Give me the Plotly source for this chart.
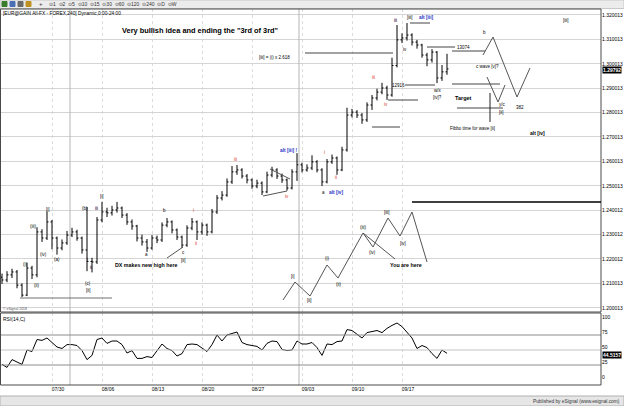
import plotly.graph_objects as go

W, H = 624, 406

# ---------------- data (12h bars, EUR/USD) ----------------
bar_open = [1.2125, 1.2114, 1.2135, 1.2147, 1.2093, 1.2052, 1.2163, 1.2135, 1.2311, 1.2286,
            1.2352, 1.2286, 1.2245, 1.2266, 1.2298, 1.2311, 1.2286, 1.2237, 1.2190, 1.2188,
            1.2360, 1.2393, 1.2389, 1.2401, 1.2409, 1.2380, 1.2352, 1.2335, 1.2286, 1.2270,
            1.2245, 1.2286, 1.2278, 1.2339, 1.2352, 1.2319, 1.2290, 1.2257, 1.2327, 1.2352,
            1.2311, 1.2339, 1.2311, 1.2393, 1.2450, 1.2462, 1.2516, 1.2557, 1.2565, 1.2540,
            1.2524, 1.2499, 1.2511, 1.2475, 1.2544, 1.2565, 1.2540, 1.2524, 1.2491, 1.2557,
            1.2586, 1.2565, 1.2573, 1.2598, 1.2565, 1.2516, 1.2598, 1.2614, 1.2565, 1.2647,
            1.2790, 1.2802, 1.2790, 1.2770, 1.2831, 1.2860, 1.2884, 1.2901, 1.2872, 1.2993,
            1.3098, 1.3106, 1.3118, 1.3089, 1.3077, 1.3036, 1.3016, 1.3048, 1.2942, 1.2967]
bar_high = [1.2140, 1.2150, 1.2160, 1.2155, 1.2100, 1.2185, 1.2172, 1.2330, 1.2322, 1.2395,
            1.2360, 1.2292, 1.2280, 1.2315, 1.2328, 1.2320, 1.2292, 1.2413, 1.2205, 1.2372,
            1.2434, 1.2410, 1.2418, 1.2434, 1.2415, 1.2388, 1.2362, 1.2340, 1.2300, 1.2282,
            1.2298, 1.2296, 1.2350, 1.2368, 1.2358, 1.2325, 1.2296, 1.2338, 1.2368, 1.2358,
            1.2350, 1.2345, 1.2405, 1.2462, 1.2478, 1.2530, 1.2581, 1.2585, 1.2572, 1.2548,
            1.2530, 1.2525, 1.2518, 1.2558, 1.2578, 1.2572, 1.2550, 1.2530, 1.2568, 1.2634,
            1.2595, 1.2588, 1.2625, 1.2605, 1.2572, 1.2610, 1.2628, 1.2620, 1.2660, 1.2820,
            1.2815, 1.2810, 1.2798, 1.2842, 1.2872, 1.2898, 1.2922, 1.2910, 1.3025, 1.3159,
            1.3125, 1.3167, 1.3125, 1.3098, 1.3082, 1.3045, 1.3060, 1.3052, 1.2995, 1.3041]
bar_low = [1.2098, 1.2105, 1.2122, 1.2080, 1.2044, 1.2048, 1.2118, 1.2125, 1.2270, 1.2278,
           1.2240, 1.2218, 1.2236, 1.2258, 1.2290, 1.2275, 1.2222, 1.2150, 1.2145, 1.2180,
           1.2350, 1.2372, 1.2378, 1.2390, 1.2368, 1.2340, 1.2320, 1.2272, 1.2255, 1.2229,
           1.2238, 1.2265, 1.2270, 1.2330, 1.2305, 1.2278, 1.2245, 1.2250, 1.2318, 1.2278,
           1.2300, 1.2295, 1.2305, 1.2385, 1.2440, 1.2455, 1.2508, 1.2545, 1.2530, 1.2510,
           1.2488, 1.2490, 1.2462, 1.2470, 1.2535, 1.2528, 1.2512, 1.2480, 1.2485, 1.2520,
           1.2555, 1.2558, 1.2565, 1.2555, 1.2499, 1.2510, 1.2590, 1.2545, 1.2560, 1.2640,
           1.2780, 1.2778, 1.2754, 1.2762, 1.2811, 1.2850, 1.2875, 1.2852, 1.2865, 1.2985,
           1.3085, 1.3095, 1.3075, 1.3062, 1.3025, 1.2990, 1.3005, 1.2921, 1.2930, 1.2955]
bar_close = [1.2114, 1.2135, 1.2147, 1.2093, 1.2052, 1.2163, 1.2135, 1.2311, 1.2286, 1.2352,
             1.2286, 1.2245, 1.2266, 1.2298, 1.2311, 1.2286, 1.2237, 1.2190, 1.2188, 1.2360,
             1.2393, 1.2389, 1.2401, 1.2409, 1.2380, 1.2352, 1.2335, 1.2286, 1.2270, 1.2245,
             1.2286, 1.2278, 1.2339, 1.2352, 1.2319, 1.2290, 1.2257, 1.2327, 1.2352, 1.2311,
             1.2339, 1.2311, 1.2393, 1.2450, 1.2462, 1.2516, 1.2557, 1.2565, 1.2540, 1.2524,
             1.2499, 1.2511, 1.2475, 1.2544, 1.2565, 1.2540, 1.2524, 1.2491, 1.2557, 1.2586,
             1.2565, 1.2573, 1.2598, 1.2565, 1.2516, 1.2598, 1.2614, 1.2565, 1.2647, 1.2790,
             1.2802, 1.2790, 1.2770, 1.2831, 1.2860, 1.2884, 1.2901, 1.2872, 1.2993, 1.3098,
             1.3106, 1.3118, 1.3089, 1.3077, 1.3036, 1.3016, 1.3048, 1.2942, 1.2967, 1.2979]
rsi_values = [26, 21, 34, 30, 26, 50, 47.5, 67.5, 66, 70,
              62.5, 55, 52.5, 59, 59, 57.5, 49, 34, 41, 67.5,
              70, 61, 65, 65, 59, 45, 49, 36, 36, 39,
              37.5, 49, 60, 52.5, 49, 40, 44, 59, 60, 59,
              52.5, 47.5, 59, 75, 65, 75, 77.5, 80, 62.5, 59,
              57.5, 56, 50, 61, 65, 64, 51, 49, 50, 65,
              60, 60, 62.5, 54, 41, 60, 59, 64, 65, 84,
              82.5, 76, 70, 79, 81, 82.5, 79, 86, 91, 95,
              89, 79, 70, 52.5, 57.5, 54, 44, 36, 50, 44.5157]
week_ticks = [10, 20, 30, 40, 50, 60, 70, 80]
week_labels = ["07/30", "08/06", "08/13", "08/20", "08/27", "09/03", "09/10", "09/17"]
month_starts = [13.6, 59.4]
price_ticks = [1.200013, 1.210013, 1.220013, 1.230013, 1.240012, 1.250013, 1.260013,
               1.270013, 1.280013, 1.290013, 1.300013, 1.310013, 1.320013]
price_labels = ["1.200013", "1.210013", "1.220012", "1.230012", "1.240012", "1.250013", "1.260013",
                "1.270013", "1.280013", "1.290013", "1.300013", "1.310013", "1.320013"]
rsi_ticks = [0, 25, 50, 75, 100]
last_price_label = "1.29792"
last_rsi_label = "44.5157"

bar_index = list(range(len(bar_close)))

FONT = "Liberation Sans, Arial, sans-serif"


def P(x, y):
    return x / W, 1 - y / H


fig = go.Figure()
fig.add_trace(go.Ohlc(
    x=bar_index, open=bar_open, high=bar_high, low=bar_low, close=bar_close,
    increasing=dict(line=dict(color="black", width=1)),
    decreasing=dict(line=dict(color="black", width=1)),
    tickwidth=0.3, xaxis="x", yaxis="y", showlegend=False, hoverinfo="skip"))
fig.add_trace(go.Scatter(
    x=bar_index, y=rsi_values, mode="lines", line=dict(color="black", width=1),
    xaxis="x2", yaxis="y2", showlegend=False, hoverinfo="skip"))

X_DOM = [0, 601 / W]
fig.update_layout(
    width=W, height=H, margin=dict(l=0, r=0, t=0, b=0),
    paper_bgcolor="white", plot_bgcolor="white",
    font=dict(family=FONT, size=6, color="black"),
    xaxis=dict(domain=X_DOM, range=[-0.4, 119.8], anchor="y", showticklabels=False,
               tickvals=week_ticks, showgrid=True, gridcolor="#dcdcdc", griddash="dot",
               zeroline=False, rangeslider=dict(visible=False), showline=False, ticks="", ticklen=0),
    yaxis=dict(domain=[94 / H, 397 / H], range=[1.198279, 1.322459], side="right", anchor="x",
               tickvals=price_ticks, ticktext=price_labels, showgrid=True, gridcolor="#d4d4d4",
               zeroline=False, tickfont=dict(size=5), ticks="", ticklen=0, showline=False),
    xaxis2=dict(domain=X_DOM, matches="x", anchor="y2", tickvals=week_ticks, ticktext=week_labels,
                ticklabelshift=6, tickfont=dict(size=5), showgrid=True, gridcolor="#dcdcdc",
                griddash="dot", zeroline=False, ticks="", ticklen=0, showline=False),
    yaxis2=dict(domain=[21 / H, 93 / H], range=[-8.33, 111.67], side="right", anchor="x2",
                tickvals=rsi_ticks, showgrid=False, zeroline=False, tickfont=dict(size=5),
                ticks="", ticklen=0, showline=False, ticklabelshift=-3),
)

shapes = []


def seg(x0, y0, x1, y1, color="black", width=1, dash="solid"):
    a = P(x0, y0)
    b = P(x1, y1)
    shapes.append(dict(type="line", xref="paper", yref="paper", x0=a[0], y0=a[1], x1=b[0], y1=b[1],
                       line=dict(color=color, width=width, dash=dash)))


def poly(points, color="#555555", width=1):
    for (xa, ya), (xb, yb) in zip(points[:-1], points[1:]):
        seg(xa, ya, xb, yb, color, width)


def rect(x0, y0, x1, y1, fill=None, line="#555555", width=1):
    a = P(x0, y0)
    b = P(x1, y1)
    shapes.append(dict(type="rect", xref="paper", yref="paper", x0=a[0], y0=b[1], x1=b[0], y1=a[1],
                       fillcolor=fill if fill else "rgba(0,0,0,0)",
                       line=dict(color=line, width=width), layer="below" if fill else "above"))


# toolbar and footer
rect(0, 0, 624, 8.5, fill="#ececec", line="#c8c8c8")
rect(0, 396, 624, 406, fill="#e6e6e6", line="#b0b0b0")
for i, c in enumerate(["#3a7d2c", "#4b6fb5", "#6a6a6a", "#c09020"]):
    rect(2 + i * 8, 1.5, 7 + i * 8, 6.5, fill=c, line=c)

# month separators
for m in month_starts:
    shapes.append(dict(type="line", xref="x", yref="paper", x0=m, x1=m,
                       y0=1 - 385 / H, y1=1 - 9 / H, line=dict(color="#b4b4b4", width=1)))

# RSI levels
for lvl, col in [(75, "#8c8c8c"), (50, "#c4c4c4"), (25, "#8c8c8c")]:
    shapes.append(dict(type="line", xref="paper", yref="y2", x0=0, x1=601 / W, y0=lvl, y1=lvl,
                       line=dict(color=col, width=1)))

# panel borders
rect(0.5, 9, 601, 312, line="#4a4a4a")
rect(0.5, 313, 601, 385, line="#4a4a4a")

# drawn lines on the chart
seg(20, 298, 112, 298, "#707070")
seg(167, 258, 183, 247, "#555555")
seg(263, 196, 287, 191, "#555555")
seg(270, 169, 290, 179, "#555555")
seg(305, 53, 393, 53, "#444444")
seg(410, 23, 430, 23, "#444444")
seg(427, 47, 455, 47, "#444444")
seg(452, 51, 485, 51, "#444444")
seg(405, 85, 435, 85, "#444444")
seg(452, 84, 500, 84, "#444444")
seg(388, 100, 418, 100, "#444444")
seg(372, 127, 400, 127, "#444444")
seg(457, 108, 503, 108, "#444444")
seg(490, 93, 490, 122, "#222222")
seg(412, 202, 601, 202, "black", 1.5)
poly([(483, 55), (493, 37), (517, 97), (530, 68)])
poly([(487, 77), (498, 102), (505, 85)])
poly([(283, 300), (295, 282), (310, 296), (327, 265), (338, 278), (363, 233), (373, 247),
      (388, 218), (400, 236), (412, 212), (427, 262)])
seg(363, 233, 395, 259, "#555555")

fig.update_layout(shapes=shapes)

ann = []


def T(text, x, y, size=5, color="black", bold=False, xanchor="center", bg=None, fc=None):
    px, py = P(x, y)
    ann.append(dict(text=("<b>%s</b>" % text) if bold else text, x=px, y=py, xref="paper", yref="paper",
                    xanchor=xanchor, yanchor="middle", showarrow=False,
                    font=dict(size=size, color=fc if fc else color, family=FONT),
                    bgcolor=bg, borderpad=0))


RED = "#d8402a"
BLUE = "#2a35c8"

T("⊙1  ⊙2  ⊙5  ⊙10  ⊙15  ⊙30  ⊙60  ⊙120  ⊙240  ⊙D  ⊙W", 48, 4.3, 5, "#333333", xanchor="left")
T("+", 38, 4.2, 6, "#333333", xanchor="left")
T("[EUR@GAIN All-FX - FOREX,240] Dynamic,0:00-24:00", 1.5, 13.5, 4.8, xanchor="left")
T("Very bullish idea and ending the \"3rd of 3rd\"", 200, 30, 7.4, bold=True)
T("[iii] = (i) x 2.618", 274, 57, 4.5)
T("© eSignal 2018", 2, 309, 3.5, "#555555", xanchor="left")
T("RSI(14,C)", 2, 319, 5, xanchor="left")
T("Published by eSignal (www.esignal.com)", 621, 401.5, 4.8, "#333333", xanchor="right")
T(last_price_label, 602, 69.5, 5, bold=True, xanchor="left", bg="black", fc="white")
T(last_rsi_label, 602, 354.5, 5, bold=True, xanchor="left", bg="black", fc="white")

# wave labels on price
for txt, x, y in [("(i)", 25, 264), ("(iii)", 33, 226), ("(ii)", 36, 285), ("[i]", 48, 209),
                  ("(iv)", 43, 254), ("(a)", 57, 259), ("(b)", 85, 208), ("i", 87, 259),
                  ("ii", 91, 267), ("(c)", 88, 283), ("[ii]", 88, 290), ("iii", 96, 208),
                  ("[i]", 102, 196), ("a", 146, 255), ("b", 164, 210), ("c", 183, 252),
                  ("[ii]", 183, 260), ("a", 323, 192), ("iii", 395, 20), ("[iii]", 410, 17),
                  ("iv", 405, 50), ("w/x", 438, 90), ("[iv]?", 438, 97), ("12916", 398, 85),
                  ("13074", 463, 48), ("b", 484, 32), ("c wave [v]?", 487, 66), ("y/c", 502, 104),
                  ("[ii]", 501, 113), ("382", 520, 107), ("Fibbo time for wave [ii]", 472, 128),
                  ("[iii]", 566, 20),
                  ("[i]", 293, 276), ("[ii]", 309, 300), ("(i)", 327, 258), ("(ii)", 338, 284),
                  ("(iii)", 363, 227), ("(iv)", 372, 253), ("[iii]", 387, 212), ("[iv]", 403, 243)]:
    T(txt, x, y, 4.5)
for txt, x, y in [("iii", 235, 160), ("iv", 287, 196), ("i", 193, 210), ("ii", 196, 243),
                  ("i", 324, 152), ("ii", 336, 177), ("iii", 373, 77), ("iv", 386, 104)]:
    T(txt, x, y, 4.5, RED)
T("alt [iii] !", 288, 150, 4.8, BLUE, bold=True)
T("alt [iv]", 336, 193, 4.8, BLUE, bold=True)
T("alt [iii]", 426, 17, 4.8, BLUE, bold=True)
T("DX makes new high here", 146, 265, 5.3, bold=True)
T("You are here", 406, 265, 5.3, bold=True)
T("Target", 463, 98, 5.5, bold=True)
T("alt [iv]", 537, 133, 5, bold=True)

fig.update_layout(annotations=ann)
fig.write_html("out.html", config={"displayModeBar": False},
               post_script="document.body.style.margin='0';document.body.style.overflow='hidden';")
